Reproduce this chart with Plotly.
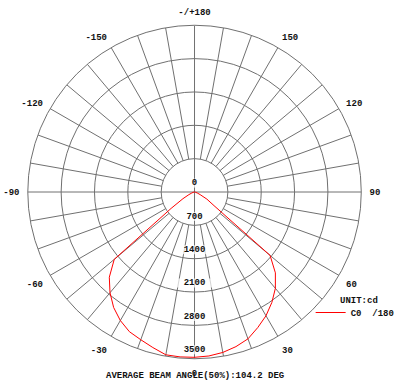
import plotly.graph_objects as go

# ---------------- data ----------------
theta_deg = [-180, -90, -85, -80, -75, -70, -65, -60, -55, -50, -45, -40, -35, -30,
             -25, -20, -15, -10, -5, 0, 5, 10, 15, 20, 25, 30, 35, 40, 45, 50,
             55, 60, 65, 70, 75, 80, 85, 90, 180]
intensity_cd = [0, 0, 0, 10, 30, 60, 130, 280, 600, 2200, 2530, 2760, 2960, 3115,
                3235, 3300, 3380, 3470, 3475, 3470, 3455, 3420, 3360, 3280, 3140, 3000, 2830, 2640, 2400, 2070,
                500, 300, 130, 60, 20, 0, 0, 0, 0]

radial_ticks = [0, 700, 1400, 2100, 2800, 3500]
angular_tickvals = [0, 30, 60, 90, 120, 150, 180, 210, 240, 270, 300, 330]
angular_ticktext = ["0", "30", "60", "90", "120", "150", "-/+180",
                    "-150", "-120", "-90", "-60", "-30"]
spoke_angles = list(range(0, 360, 10))

series_name = "C0\u00a0\u00a0/180"
unit_text = "UNIT:cd"
title_text = "AVERAGE BEAM ANGLE(50%):104.2 DEG"

# ---------------- style ----------------
GRID = "#707070"
FONT = dict(family="Liberation Mono, Courier New, monospace", size=9, color="#111111", weight="bold")
RMAX = radial_ticks[-1]
inner = radial_ticks[1]
label_offset = RMAX * 9 / 168.0

fig = go.Figure()

# spokes (angular grid); only the main axes cross the inner circle
sp_t, sp_r = [], []
for a in spoke_angles:
    start = 0 if a % 90 == 0 else inner
    sp_t += [a, a, None]
    sp_r += [start, RMAX, None]
fig.add_trace(go.Scatterpolar(theta=sp_t, r=sp_r, mode="lines",
                              line=dict(color=GRID, width=1), showlegend=False,
                              hoverinfo="skip"))

# radial labels with white background boxes
lab_t = [180 if v == 0 else 0 for v in radial_ticks]
lab_r = [label_offset if v == 0 else v - label_offset for v in radial_ticks]
lab_txt = [str(v) for v in radial_ticks]
fig.add_trace(go.Scatterpolar(theta=lab_t, r=lab_r, mode="markers",
                              marker=dict(symbol="line-ew", size=[6 * len(s) + 2 for s in lab_txt],
                                          line=dict(color="white", width=9)),
                              showlegend=False, hoverinfo="skip"))
fig.add_trace(go.Scatterpolar(theta=lab_t, r=lab_r, mode="text", text=lab_txt,
                              textposition="middle center", textfont=FONT,
                              showlegend=False, hoverinfo="skip"))

# photometric curve
fig.add_trace(go.Scatterpolar(theta=theta_deg, r=intensity_cd, mode="lines",
                              line=dict(color="#ff0000", width=1), name=series_name))

W, H = 400, 387
cx, cy, R = 196, 192, 168
fig.update_layout(
    width=W, height=H,
    margin=dict(l=0, r=0, t=0, b=0),
    paper_bgcolor="white",
    font=FONT,
    polar=dict(
        domain=dict(x=[(cx - R) / W, (cx + R) / W], y=[(H - cy - R) / H, (H - cy + R) / H]),
        bgcolor="white",
        radialaxis=dict(range=[0, RMAX], tickvals=radial_ticks, showticklabels=False,
                        ticks="", showline=False, gridcolor=GRID, gridwidth=1),
        angularaxis=dict(rotation=270, direction="counterclockwise",
                         tickmode="array", tickvals=angular_tickvals, ticktext=angular_ticktext,
                         showgrid=False, ticks="outside", ticklen=6, tickcolor="rgba(0,0,0,0)",
                         showline=True, linecolor=GRID, linewidth=1,
                         tickfont=FONT),
    ),
    showlegend=True,
    legend=dict(x=313 / W, y=(H - 298) / H, xanchor="left", yanchor="top",
                bgcolor="rgba(0,0,0,0)", font=FONT, itemwidth=30,
                tracegroupgap=0),
    annotations=[
        dict(text=unit_text, x=341 / W, y=(H - 301) / H, xref="paper", yref="paper",
             xanchor="left", yanchor="middle", showarrow=False, font=FONT),
        dict(text=title_text, x=196 / W, y=(H - 376) / H, xref="paper", yref="paper",
             xanchor="center", yanchor="middle", showarrow=False, font=FONT),
    ],
)

fig.write_html("out.html")
